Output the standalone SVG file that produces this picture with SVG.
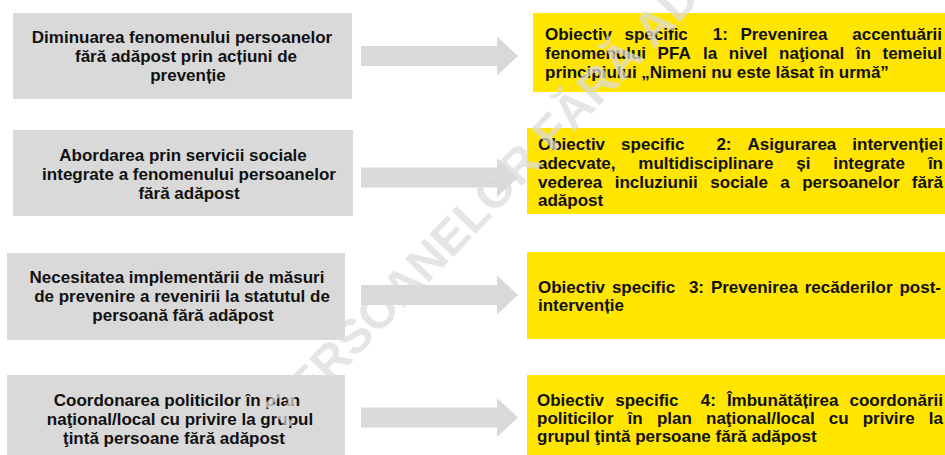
<svg xmlns="http://www.w3.org/2000/svg" xmlns:xlink="http://www.w3.org/1999/xlink" width="945" height="455" viewBox="0 0 945 455">
<style>
.bg{fill:#ffffff}
.need{fill:#d9d9d9}
.obj{fill:#ffe500}
.arrow{fill:#d9d9d9}
.t{font-family:"Liberation Sans",Arial,Helvetica,sans-serif;font-weight:bold;font-size:17px;fill:#111111}
.c{text-anchor:middle}
.e{text-anchor:end}
.wm{font-family:"Liberation Sans",Arial,Helvetica,sans-serif;font-weight:bold;font-size:48px}
</style>
<defs>
<path id="arr" d="M0,-10 H136 V-19.5 L157,0 L136,19.5 V10 H0 Z"/>
</defs>
<rect class="bg" x="0" y="0" width="945" height="455"/>

<g id="need1">
<rect class="need" x="13" y="13" width="339" height="86"/>
<text class="t c" y="43"><tspan x="182">Diminuarea fenomenului persoanelor</tspan><tspan x="186" y="62">fără adăpost prin acțiuni de</tspan><tspan x="188" y="81">prevenție</tspan></text>
</g>
<g id="need2">
<rect class="need" x="13" y="130" width="340" height="86"/>
<text class="t c" y="161"><tspan x="183">Abordarea prin servicii sociale</tspan><tspan x="189" y="180">integrate a fenomenului persoanelor</tspan><tspan x="189" y="199">fără adăpost</tspan></text>
</g>
<g id="need3">
<rect class="need" x="7" y="253" width="338" height="87"/>
<text class="t c" y="283"><tspan x="177">Necesitatea implementării de măsuri</tspan><tspan x="182" y="302">de prevenire a revenirii la statutul de</tspan><tspan x="183" y="321">persoană fără adăpost</tspan></text>
</g>
<g id="need4">
<rect class="need" x="7" y="375" width="338" height="85"/>
<text class="t c" y="406"><tspan x="177">Coordonarea politicilor în plan</tspan><tspan x="180" y="425">naţional/local cu privire la grupul</tspan><tspan x="174" y="444">ţintă persoane fără adăpost</tspan></text>
</g>

<g id="connectors">
<use xlink:href="#arr" class="arrow" transform="translate(361,56)"/>
<use xlink:href="#arr" class="arrow" transform="translate(361,177.5)"/>
<use xlink:href="#arr" class="arrow" transform="translate(361,295)"/>
<use xlink:href="#arr" class="arrow" transform="translate(361,417.5)"/>
</g>

<g id="obj1">
<rect class="obj" x="533" y="13" width="420" height="79"/>
<text class="t" y="40"><tspan x="545">Obiectiv</tspan><tspan x="624.5">specific</tspan><tspan x="712.8">1:</tspan><tspan x="740.4">Prevenirea</tspan><tspan x="942" class="e">accentuării</tspan></text>
<text class="t" y="59"><tspan x="545">fenomenului</tspan><tspan x="657.6">PFA</tspan><tspan x="703.1">la</tspan><tspan x="728.8">nivel</tspan><tspan x="779.1">naţional</tspan><tspan x="855.8">în</tspan><tspan x="942" class="e">temeiul</tspan></text>
<text class="t" x="545" y="78">principiului „Nimeni nu este lăsat în urmă”</text>
</g>
<g id="obj2">
<rect class="obj" x="527" y="128" width="426" height="86"/>
<text class="t" y="150"><tspan x="538">Obiectiv</tspan><tspan x="621.1">specific</tspan><tspan x="716.4">2:</tspan><tspan x="747.5">Asigurarea</tspan><tspan x="943" class="e">intervenției</tspan></text>
<text class="t" y="169"><tspan x="538">adecvate,</tspan><tspan x="638.3">multidisciplinare</tspan><tspan x="796.2">și</tspan><tspan x="833.2">integrate</tspan><tspan x="943" class="e">în</tspan></text>
<text class="t" y="188"><tspan x="538">vederea</tspan><tspan x="614.7">incluziunii</tspan><tspan x="710.3">sociale</tspan><tspan x="780.3">a</tspan><tspan x="802.2">persoanelor</tspan><tspan x="943" class="e">fără</tspan></text>
<text class="t" x="538" y="206">adăpost</text>
</g>
<g id="obj3">
<rect class="obj" x="527" y="252" width="426" height="87"/>
<text class="t" y="293"><tspan x="538">Obiectiv</tspan><tspan x="611.9">specific</tspan><tspan x="688.9">3:</tspan><tspan x="710.9">Prevenirea</tspan><tspan x="804.7">recăderilor</tspan><tspan x="941" class="e">post-</tspan></text>
<text class="t" x="538" y="311">intervenție</text>
</g>
<g id="obj4">
<rect class="obj" x="527" y="375" width="426" height="85"/>
<text class="t" y="406"><tspan x="537">Obiectiv</tspan><tspan x="615.2">specific</tspan><tspan x="700.7">4:</tspan><tspan x="726.9">Îmbunătățirea</tspan><tspan x="943" class="e">coordonării</tspan></text>
<text class="t" y="424"><tspan x="537">politicilor</tspan><tspan x="627.6">în</tspan><tspan x="656.9">plan</tspan><tspan x="706">naţional/local</tspan><tspan x="828.8">cu</tspan><tspan x="862.7">privire</tspan><tspan x="943" class="e">la</tspan></text>
<text class="t" x="537" y="442">grupul ţintă persoane fără adăpost</text>
</g>

<g id="watermark" transform="translate(286,430) rotate(-46)">
<text class="wm" x="0" y="0" fill="#ffffff" fill-opacity="0.6">PERSOANELOR FĂRĂ ADĂPOST</text>
<text class="wm" x="0" y="0" fill="#b0b0b0" fill-opacity="0.33">PERSOANELOR FĂRĂ ADĂPOST</text>
</g>
</svg>
